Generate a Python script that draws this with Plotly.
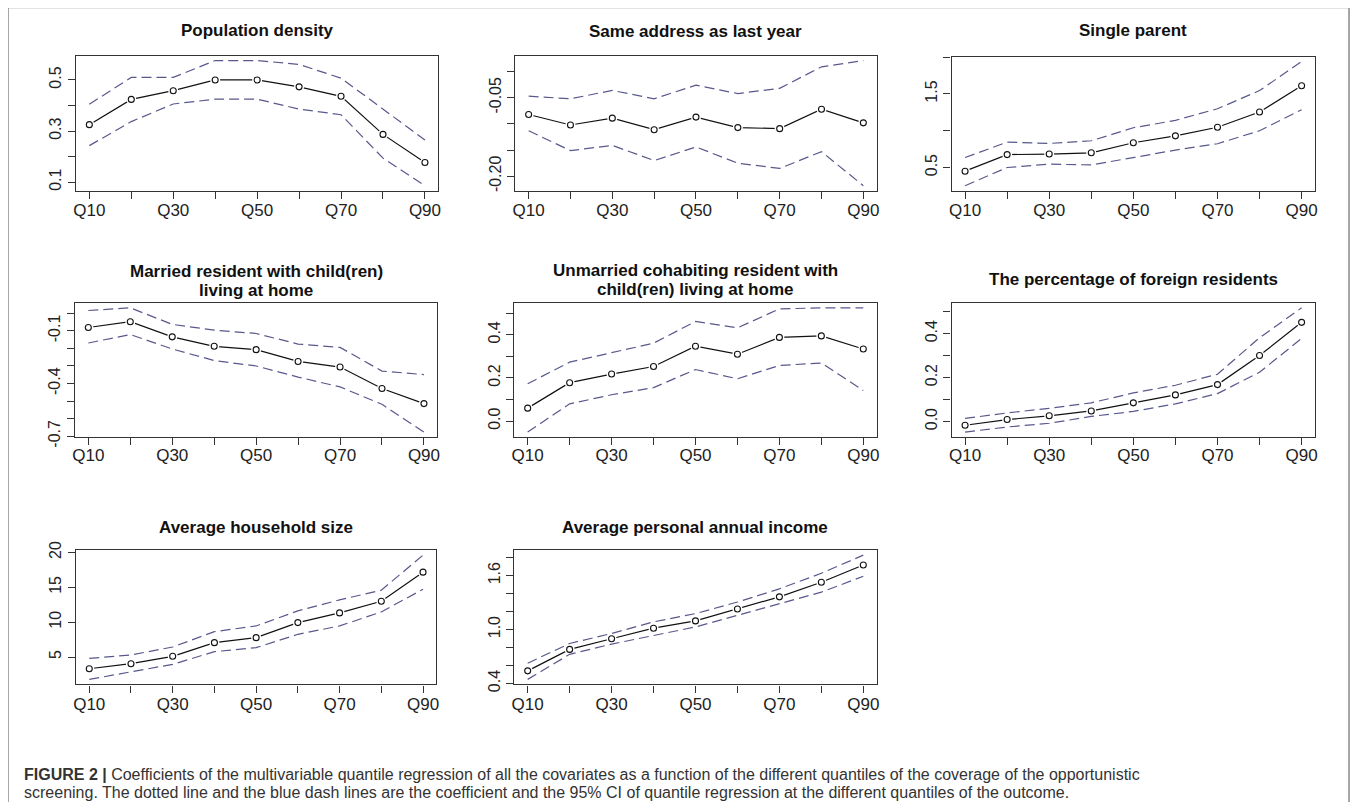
import plotly.graph_objects as go

# ---------------- data ----------------
quantiles = [10, 20, 30, 40, 50, 60, 70, 80, 90]
x_tick_labels = ["Q10", "", "Q30", "", "Q50", "", "Q70", "", "Q90"]

titles = [
    "Population density",
    "Same address as last year",
    "Single parent",
    "Married resident with child(ren)<br>living at home",
    "Unmarried cohabiting resident with<br>child(ren) living at home",
    "The percentage of foreign residents",
    "Average household size",
    "Average personal annual income",
]

pop_coef = [0.325, 0.424, 0.458, 0.500, 0.500, 0.473, 0.436, 0.287, 0.177]
pop_upper = [0.405, 0.510, 0.510, 0.576, 0.576, 0.561, 0.507, 0.386, 0.265]
pop_lower = [0.243, 0.337, 0.406, 0.425, 0.425, 0.386, 0.364, 0.194, 0.086]

addr_coef = [-0.082, -0.102, -0.089, -0.111, -0.087, -0.107, -0.109, -0.072, -0.098]
addr_upper = [-0.047, -0.052, -0.036, -0.052, -0.026, -0.042, -0.032, 0.009, 0.021]
addr_lower = [-0.113, -0.151, -0.141, -0.170, -0.144, -0.175, -0.185, -0.153, -0.218]

single_coef = [0.45, 0.675, 0.683, 0.70, 0.836, 0.93, 1.047, 1.254, 1.61]
single_upper = [0.635, 0.845, 0.827, 0.863, 1.04, 1.14, 1.298, 1.545, 1.94]
single_lower = [0.252, 0.50, 0.545, 0.535, 0.635, 0.737, 0.823, 1.00, 1.285]

married_coef = [-0.081, -0.048, -0.134, -0.188, -0.207, -0.274, -0.306, -0.428, -0.514]
married_upper = [0.016, 0.031, -0.063, -0.096, -0.115, -0.175, -0.194, -0.329, -0.349]
married_lower = [-0.169, -0.121, -0.203, -0.269, -0.300, -0.363, -0.419, -0.518, -0.676]

cohab_coef = [0.060, 0.178, 0.218, 0.253, 0.347, 0.310, 0.388, 0.395, 0.334]
cohab_upper = [0.173, 0.273, 0.317, 0.361, 0.462, 0.432, 0.520, 0.525, 0.525]
cohab_lower = [-0.051, 0.080, 0.122, 0.155, 0.239, 0.196, 0.258, 0.269, 0.142]

foreign_coef = [-0.017, 0.009, 0.026, 0.048, 0.085, 0.121, 0.168, 0.300, 0.451]
foreign_upper = [0.014, 0.039, 0.060, 0.085, 0.130, 0.165, 0.215, 0.381, 0.517]
foreign_lower = [-0.048, -0.025, -0.008, 0.023, 0.046, 0.080, 0.127, 0.224, 0.378]

house_coef = [3.32, 4.04, 5.10, 7.06, 7.78, 9.94, 11.33, 13.00, 17.18]
house_upper = [4.81, 5.29, 6.44, 8.64, 9.46, 11.62, 13.20, 14.59, 19.62]
house_lower = [1.79, 2.84, 3.95, 5.77, 6.34, 8.26, 9.46, 11.47, 14.73]

income_coef = [0.54, 0.779, 0.897, 1.015, 1.096, 1.228, 1.364, 1.526, 1.718]
income_upper = [0.625, 0.845, 0.956, 1.085, 1.177, 1.306, 1.453, 1.626, 1.828]
income_lower = [0.445, 0.724, 0.838, 0.937, 1.029, 1.158, 1.287, 1.416, 1.593]

y_tick_values = [
    [0.1, 0.2, 0.3, 0.4, 0.5],
    [0.0, -0.05, -0.10, -0.15, -0.20],
    [0.5, 1.0, 1.5, 2.0],
    [0.0, -0.1, -0.2, -0.3, -0.4, -0.5, -0.6, -0.7],
    [0.0, 0.1, 0.2, 0.3, 0.4, 0.5],
    [0.0, 0.1, 0.2, 0.3, 0.4, 0.5],
    [5, 10, 15, 20],
    [0.4, 0.6, 0.8, 1.0, 1.2, 1.4, 1.6, 1.8],
]
y_tick_labels = [
    ["0.1", "", "0.3", "", "0.5"],
    ["", "-0.05", "", "", "-0.20"],
    ["0.5", "", "1.5", ""],
    ["", "-0.1", "", "", "-0.4", "", "", "-0.7"],
    ["0.0", "", "0.2", "", "0.4", ""],
    ["0.0", "", "0.2", "", "0.4", ""],
    ["5", "10", "15", "20"],
    ["0.4", "", "", "1.0", "", "", "1.6", ""],
]

caption_bold = "FIGURE 2 |"
caption_line1 = (" Coefficients of the multivariable quantile regression of all the covariates as a function "
                 "of the different quantiles of the coverage of the opportunistic")
caption_line2 = ("screening. The dotted line and the blue dash lines are the coefficient and the 95% CI of "
                 "quantile regression at the different quantiles of the outcome.")

series = [
    (pop_coef, pop_upper, pop_lower),
    (addr_coef, addr_upper, addr_lower),
    (single_coef, single_upper, single_lower),
    (married_coef, married_upper, married_lower),
    (cohab_coef, cohab_upper, cohab_lower),
    (foreign_coef, foreign_upper, foreign_lower),
    (house_coef, house_upper, house_lower),
    (income_coef, income_upper, income_lower),
]

# ---------------- layout (target pixel boxes in the screenshot) ----------------
W, H = 1358, 802
# observed rendering region of the figure inside the screenshot
RX0, RW = 11.0, 1354.0
RY0, RH = 17.5, 781.0


def fx(px):
    return (px - RX0) / RW


def fy(py):
    return 1 - (py - RY0) / RH


boxes = [  # x0, x1, y0, y1 (target pixels from top-left)
    (76, 439, 56, 191),
    (516, 878, 56, 191),
    (953, 1317, 57, 191),
    (75, 438, 303, 437),
    (515, 878, 303, 437),
    (953, 1317, 303, 437),
    (76, 437, 550, 684),
    (515, 878, 550, 684),
]
title_y = [31, 32, 31, 281, 280, 280, 527, 527]
label_standoff = [-3, -3, -3, -5, -5, -5, -3, -3]

FONT = "Liberation Sans, Arial, sans-serif"
DASH_COLOR = "#58588c"

fig = go.Figure()
layout = dict(
    width=W, height=H, margin=dict(l=0, r=0, t=0, b=0),
    paper_bgcolor="white", plot_bgcolor="white", showlegend=False,
    annotations=[], shapes=[],
)

for i, ((coef, upper, lower), box, ttl, ty) in enumerate(zip(series, boxes, titles, title_y)):
    n = "" if i == 0 else str(i + 1)
    xa, ya = "x" + n, "y" + n
    x0, x1, y0, y1 = box
    allv = coef + upper + lower
    lo, hi = min(allv), max(allv)
    pad = 0.04 * (hi - lo)
    xpad = 0.04 * (quantiles[-1] - quantiles[0])

    layout["xaxis" + n] = dict(
        domain=[fx(x0), fx(x1)], anchor=ya,
        range=[quantiles[0] - xpad, quantiles[-1] + xpad],
        tickvals=quantiles, ticktext=x_tick_labels,
        ticks="outside", ticklen=7, tickwidth=1, tickcolor="#333",
        ticklabelstandoff=label_standoff[i],
        showline=True, mirror=True, linecolor="#333", linewidth=1.3,
        showgrid=False, zeroline=False,
        tickfont=dict(family=FONT, size=17, color="#222"),
    )
    layout["yaxis" + n] = dict(
        domain=[fy(y1), fy(y0)], anchor=xa,
        range=[lo - pad, hi + pad],
        tickvals=y_tick_values[i], ticktext=y_tick_labels[i],
        ticks="outside", ticklen=7, tickwidth=1, tickcolor="#333",
        tickangle=-90,
        showline=True, mirror=True, linecolor="#333", linewidth=1.3,
        showgrid=False, zeroline=False,
        tickfont=dict(family=FONT, size=16, color="#222"),
    )
    fig.add_trace(go.Scatter(x=quantiles, y=coef, xaxis=xa, yaxis=ya, mode="lines",
                             line=dict(color="#111", width=1.2), hoverinfo="skip"))
    fig.add_trace(go.Scatter(x=quantiles, y=coef, xaxis=xa, yaxis=ya, mode="markers",
                             marker=dict(symbol="circle", size=10, color="white",
                                         line=dict(width=0)), hoverinfo="skip"))
    fig.add_trace(go.Scatter(x=quantiles, y=coef, xaxis=xa, yaxis=ya, mode="markers",
                             marker=dict(symbol="circle-open", size=6, color="#111",
                                         line=dict(width=1.1))))
    for band in (upper, lower):
        fig.add_trace(go.Scatter(x=quantiles, y=band, xaxis=xa, yaxis=ya, mode="lines",
                                 line=dict(color=DASH_COLOR, width=1.2, dash="10px,5px")))

    lines = ttl.split("<br>")
    for k, line in enumerate(lines):
        ly = ty + (k - (len(lines) - 1) / 2) * 18.5
        layout["annotations"].append(dict(
            text="<b>" + line + "</b>", x=fx((x0 + x1) / 2), y=fy(ly),
            xref="paper", yref="paper", xanchor="center", yanchor="middle",
            showarrow=False, font=dict(family=FONT, size=17, color="#111"),
        ))

# outer frame
layout["shapes"].append(dict(type="rect", xref="paper", yref="paper",
                             x0=fx(8), x1=fx(1351), y0=-0.05, y1=fy(8),
                             line=dict(color="#8a8a8a", width=1.5), fillcolor="rgba(0,0,0,0)"))

# caption
layout["annotations"].append(dict(
    text="<b>" + caption_bold + "</b>" + caption_line1, x=fx(22), y=fy(774),
    xref="paper", yref="paper", xanchor="left", yanchor="middle", align="left",
    showarrow=False, font=dict(family=FONT, size=16, color="#333"),
))
layout["annotations"].append(dict(
    text=caption_line2, x=fx(22), y=fy(792),
    xref="paper", yref="paper", xanchor="left", yanchor="middle", align="left",
    showarrow=False, font=dict(family=FONT, size=16, color="#333"),
))

fig.update_layout(**layout)
fig.write_html("out.html")
